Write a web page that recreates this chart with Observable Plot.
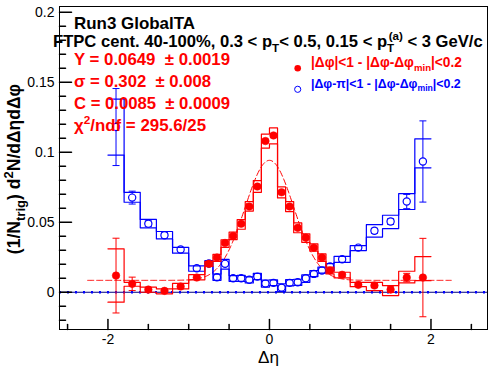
<!DOCTYPE html>
<html><head><meta charset="utf-8">
<script src="https://cdn.jsdelivr.net/npm/d3@7"></script>
<script src="https://cdn.jsdelivr.net/npm/@observablehq/plot@0.6"></script>
<style>body{margin:0;background:#fff;} svg{display:block} text{white-space:pre}</style>
</head><body><div id="chart"></div>
<script>
// Δη bin centers and widths
const etaCenters = [-1.9,-1.7,-1.5,-1.3,-1.1,-0.9,-0.75,-0.65,-0.55,-0.45,-0.35,-0.25,-0.15,-0.05,0.05,0.15,0.25,0.35,0.45,0.55,0.65,0.75,0.9,1.1,1.3,1.5,1.7,1.9];
const binWidths = [0.2,0.2,0.2,0.2,0.2,0.2,0.1,0.1,0.1,0.1,0.1,0.1,0.1,0.1,0.1,0.1,0.1,0.1,0.1,0.1,0.1,0.1,0.2,0.2,0.2,0.2,0.2,0.2];

// near side (red): |Δφ|<1 - |Δφ-Δφmin|<0.2
const redY   = [0.0119,0.006,0.0019,0.001,0.0041,0.0105,0.0203,0.0248,0.0352,0.0402,0.0489,0.0612,0.0755,0.108,0.112,0.0714,0.0612,0.046,0.039,0.0318,0.0248,0.0155,0.0125,0.0053,0.0048,0.0019,0.0105,0.0105];
const redErr = [0.0267,0.0048,0.0015,0.0012,0.0012,0.0012,0.001,0.001,0.001,0.001,0.001,0.001,0.001,0.0012,0.0012,0.001,0.001,0.001,0.001,0.001,0.001,0.001,0.0012,0.0012,0.0013,0.002,0.003,0.028];
const redSysLo = [-0.0071,0.0043,0.0,-0.0011,0.0024,0.0089,0.0184,0.0221,0.0321,0.0376,0.045,0.058,0.0714,0.103,0.106,0.0674,0.0576,0.0425,0.0357,0.0293,0.0221,0.0131,0.0103,0.004,0.0012,-0.0024,0.0067,0.0083];
const redSysHi = [0.031,0.0071,0.0036,0.0024,0.0064,0.0126,0.022,0.027,0.0374,0.0429,0.0519,0.0648,0.0798,0.113,0.1174,0.0752,0.0648,0.0495,0.0417,0.0346,0.0274,0.0179,0.0143,0.0071,0.0071,0.0048,0.015,0.0255];

// away side (blue): |Δφ-π|<1 - |Δφ-Δφmin|<0.2
const blueY   = [0.118,0.0676,0.049,0.0407,0.0305,0.0171,0.0205,0.0107,0.0203,0.010,0.010,0.0089,0.0112,0.0062,0.0067,0.0033,0.0067,0.0071,0.010,0.0131,0.0155,0.0185,0.0236,0.0319,0.0439,0.0505,0.0648,0.0934];
const blueErr = [0.0275,0.0046,0.002,0.0018,0.0015,0.0015,0.0012,0.0012,0.0012,0.0012,0.0012,0.0012,0.0012,0.0012,0.0012,0.0012,0.0012,0.0012,0.0012,0.0012,0.0012,0.0012,0.0015,0.0015,0.0018,0.002,0.0051,0.029];
const blueSysLo = [0.098,0.0643,0.046,0.0381,0.0279,0.015,0.0184,0.0085,0.0165,0.0078,0.0078,0.0066,0.009,0.0037,0.0048,0.0007,0.0045,0.0049,0.0071,0.0112,0.0136,0.0155,0.0214,0.0298,0.0394,0.0455,0.0591,0.0889];
const blueSysHi = [0.138,0.0714,0.052,0.0434,0.0321,0.0189,0.0226,0.013,0.0235,0.0119,0.012,0.011,0.0135,0.0087,0.0089,0.006,0.009,0.0093,0.0124,0.0155,0.0179,0.0205,0.0257,0.0333,0.0483,0.055,0.0705,0.1096];

// fit parameters as printed on the chart
const fitY = 0.0649, fitSigma = 0.302, fitC = 0.0085;
const fitRange = [-2.25, 2.25];

const xMajor = [-2, 0, 2];
const xMinor = [-2.5,-1.5,-1,-0.5,0.5,1,1.5,2.5];
const yMajor = [0, 0.05, 0.1, 0.15, 0.2];
const yMinor = [-0.02,-0.01,0.01,0.02,0.03,0.04,0.06,0.07,0.08,0.09,0.11,0.12,0.13,0.14,0.16,0.17,0.18,0.19];

const xDomain = [-2.6, 2.7];
const yDomain = [-0.0266, 0.2041];

const RED = "#ff0000", BLUE = "#0000ff";
const FONT = "'Liberation Sans', Arial, Helvetica, sans-serif";

const pts = (ys, errs) => etaCenters.map((x, i) => ({x, y: ys[i], lo: ys[i] - errs[i], hi: ys[i] + errs[i]}));
const steps = (vals) => etaCenters.flatMap((x, i) => [{x: x - binWidths[i] / 2, y: vals[i]}, {x: x + binWidths[i] / 2, y: vals[i]}]);
const redPts = pts(redY, redErr), bluePts = pts(blueY, blueErr);
const fitCurve = d3.range(fitRange[0], fitRange[1] + 1e-9, 0.01).map(x => ({x, y: fitC + fitY / (Math.sqrt(2 * Math.PI) * fitSigma) * Math.exp(-x * x / (2 * fitSigma * fitSigma))}));

const capSymbol = {draw(ctx, size) { const w = Math.sqrt(size / Math.PI); ctx.moveTo(-w, 0); ctx.lineTo(w, 0); }};
const tickShape = {draw(ctx, l) { ctx.moveTo(0, 0); ctx.lineTo(0, -l); }};

const errMarks = (data, color) => [
  Plot.link(data, {x1: "x", x2: "x", y1: "lo", y2: "hi", stroke: color, strokeWidth: 1}),
  Plot.dot(data, {x: "x", y: "lo", symbol: capSymbol, r: 3.5, stroke: color, fill: "none", strokeWidth: 1}),
  Plot.dot(data, {x: "x", y: "hi", symbol: capSymbol, r: 3.5, stroke: color, fill: "none", strokeWidth: 1})
];

const svg = Plot.plot({
  width: 496, height: 374,
  marginLeft: 59, marginRight: 9, marginTop: 6, marginBottom: 45,
  style: {fontFamily: FONT, background: "white", color: "black"},
  x: {domain: xDomain},
  y: {domain: yDomain},
  marks: [
    Plot.ruleY([0], {stroke: "#000080", strokeWidth: 1}),
    Plot.ruleY([0], {stroke: BLUE, strokeWidth: 2.5, strokeDasharray: "2,6"}),
    Plot.line(fitCurve, {x: "x", y: "y", stroke: RED, strokeWidth: 1, strokeDasharray: "6,3"}),
    ...errMarks(bluePts, BLUE),
    ...errMarks(redPts, RED),
    Plot.dot(bluePts, {x: "x", y: "y", r: 3.6, stroke: BLUE, fill: "white", strokeWidth: 1.2}),
    Plot.line(steps(blueSysHi), {x: "x", y: "y", stroke: BLUE, strokeWidth: 1.2}),
    Plot.line(steps(blueSysLo), {x: "x", y: "y", stroke: BLUE, strokeWidth: 1.2}),
    Plot.line(steps(redSysHi), {x: "x", y: "y", stroke: RED, strokeWidth: 1.2}),
    Plot.line(steps(redSysLo), {x: "x", y: "y", stroke: RED, strokeWidth: 1.2}),
    Plot.dot(redPts, {x: "x", y: "y", r: 3.8, fill: RED, stroke: RED, strokeWidth: 0.5}),
    Plot.frame({stroke: "black", strokeWidth: 1}),
    Plot.vector(yMajor, {x: () => xDomain[0], y: d => d, length: 12, rotate: 90, anchor: "start", shape: tickShape, stroke: "black"}),
    Plot.vector(yMinor, {x: () => xDomain[0], y: d => d, length: 6, rotate: 90, anchor: "start", shape: tickShape, stroke: "black"}),
    Plot.vector(xMajor, {x: d => d, y: () => yDomain[0], length: 10, rotate: 0, anchor: "start", shape: tickShape, stroke: "black"}),
    Plot.vector(xMinor, {x: d => d, y: () => yDomain[0], length: 5, rotate: 0, anchor: "start", shape: tickShape, stroke: "black"}),
    Plot.axisY({ticks: yMajor, tickSize: 0, tickPadding: 5, tickFormat: d => String(d), fontSize: 14, label: null}),
    Plot.axisX({ticks: xMajor, tickSize: 0, tickPadding: 5, tickFormat: d => String(d), fontSize: 14, label: null})
  ]
});
document.getElementById("chart").appendChild(svg);

// rich text helper (sub/superscripts), optionally scaled to a target width
function richOnce(parent, x, y, parts, o, size) {
  const t = parent.append("text")
    .attr("font-size", size).attr("font-weight", o.weight || "bold")
    .attr("fill", o.fill || "black").attr("text-anchor", o.anchor || "start")
    .attr("font-family", FONT).style("white-space", "pre");
  if (o.transform) t.attr("transform", o.transform); else t.attr("x", x).attr("y", y);
  let cur = 0;
  for (const p of parts) {
    const [s, kind, dx] = typeof p === "string" ? [p, "n", 0] : p;
    const target = kind === "sub" ? 0.3 * size : kind === "sup" ? -0.42 * size : 0;
    const ts = t.append("tspan").attr("dy", target - cur).text(s);
    if (kind !== "n") ts.attr("font-size", size * (o.scriptScale || 0.7));
    if (dx) ts.attr("dx", dx * size / 15);
    cur = target;
  }
  return t;
}
function rich(parent, x, y, parts, o) {
  let t = richOnce(parent, x, y, parts, o, o.size);
  if (o.width) {
    const w = t.node().getComputedTextLength();
    if (w > 0) {
      t.remove();
      const s = Math.max(o.size * 0.8, Math.min(o.size * 1.3, o.size * o.width / w));
      t = richOnce(parent, x, y, parts, o, s);
    }
  }
  return t;
}

const g = d3.select(svg).append("g");
rich(g, 74, 29, ["Run3 GlobalTA"], {size: 16.8, width: 121});
rich(g, 53, 47, ["FTPC cent. 40-100%, 0.3 < p", ["T", "sub"], "< 0.5, 0.15 < p", ["T", "sub"], ["(a)", "sup", -5], " < 3 GeV/c"], {size: 16.8, width: 435});
rich(g, 74, 64.5, ["Y = 0.0649  \u00B1 0.0019"], {size: 16.8, fill: RED, width: 156});
rich(g, 74, 86.5, ["\u03C3 = 0.302  \u00B1 0.008"], {size: 16.8, fill: RED, width: 137});
rich(g, 74, 109, ["C = 0.0085  \u00B1 0.0009"], {size: 16.8, fill: RED, width: 156});
rich(g, 74, 131, ["\u03C7", ["2", "sup"], "/ndf = 295.6/25"], {size: 16.8, fill: RED, width: 132});

// legend
g.append("circle").attr("cx", 297.7).attr("cy", 68.3).attr("r", 3.3).attr("fill", RED);
g.append("circle").attr("cx", 297.7).attr("cy", 89.3).attr("r", 3.1).attr("fill", "none").attr("stroke", BLUE).attr("stroke-width", 1);
rich(g, 311, 66.5, ["|\u0394\u03C6|<1 - |\u0394\u03C6-\u0394\u03C6", ["min", "sub"], "|<0.2"], {size: 13.5, fill: RED, width: 151});
rich(g, 311, 87.5, ["|\u0394\u03C6-\u03C0|<1 - |\u0394\u03C6-\u0394\u03C6", ["min", "sub"], "|<0.2"], {size: 13.5, fill: BLUE, width: 150});

// axis titles
rich(g, 0, 0, ["(1/N", ["trig", "sub"], ") d", ["2", "sup"], "N/d\u0394\u03B7d\u0394\u03C6"], {size: 17.5, anchor: "end", scriptScale: 0.75, transform: "translate(20,84) rotate(-90)"});
rich(g, 268.6, 363, ["\u0394\u03B7"], {size: 16, weight: "normal", anchor: "middle", width: 21});
</script></body></html>
